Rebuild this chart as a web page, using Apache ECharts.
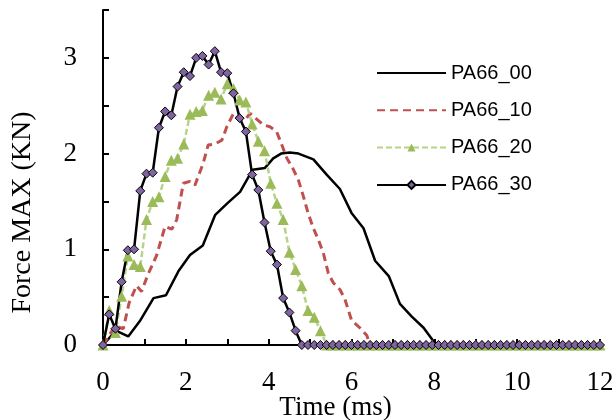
<!DOCTYPE html>
<html>
<head>
<meta charset="utf-8">
<script src="https://cdn.jsdelivr.net/npm/echarts@6/dist/echarts.min.js"></script>
<style>html,body{margin:0;padding:0;background:#fff}#c{width:612px;height:420px}</style>
</head>
<body>
<div id="c"></div>
<script>
// Time grid (ms) shared by the marker series
var timeGrid = [0,0.15,0.3,0.45,0.6,0.75,0.9,1.05,1.2,1.35,1.5,1.65,1.8,1.95,2.1,2.25,2.4,2.55,2.7,2.85,3,3.15,3.3,3.45,3.6,3.75,3.9,4.05,4.2,4.35,4.5,4.65,4.8,4.95,5.1,5.25,5.4,5.55,5.7,5.85,6,6.15,6.3,6.45,6.6,6.75,6.9,7.05,7.2,7.35,7.5,7.65,7.8,7.95,8.1,8.25,8.4,8.55,8.7,8.85,9,9.15,9.3,9.45,9.6,9.75,9.9,10.05,10.2,10.35,10.5,10.65,10.8,10.95,11.1,11.25,11.4,11.55,11.7,11.85,12];
// PA66_30 force (kN) at timeGrid
var pa66_30 = [0,0.32,0.17,0.66,0.99,1.00,1.61,1.79,1.80,2.27,2.44,2.40,2.70,2.85,2.81,3.00,3.02,2.93,3.07,2.85,2.84,2.63,2.37,2.23,1.78,1.62,1.28,0.98,0.84,0.49,0.34,0.15,0,0,0,0,0,0,0,0,0,0,0,0,0,0,0,0,0,0,0,0,0,0,0,0,0,0,0,0,0,0,0,0,0,0,0,0,0,0,0,0,0,0,0,0,0,0,0,0,0];
// PA66_20 force (kN) at timeGrid
var pa66_20 = [0,0.36,0.13,0.51,0.93,0.84,0.82,1.31,1.50,1.55,1.76,1.93,1.95,2.10,2.41,2.44,2.45,2.61,2.64,2.57,2.73,2.68,2.56,2.54,2.31,2.13,2.03,1.69,1.48,1.31,0.97,0.79,0.62,0.36,0.29,0.15,0,0,0,0,0,0,0,0,0,0,0,0,0,0,0,0,0,0,0,0,0,0,0,0,0,0,0,0,0,0,0,0,0,0,0,0,0,0,0,0,0,0,0,0,0];
// PA66_10 (time, force)
var pa66_10_t = [0,0.29,0.49,0.63,0.81,0.93,1.09,1.29,1.50,1.66,1.78,1.94,2.10,2.22,2.42,2.54,2.70,2.87,2.99,3.15,3.27,3.43,3.55,3.71,3.87,4.03,4.19,4.31,4.43,4.60,4.72,4.84,4.95,5.08,5.20,5.32,5.44,5.56,5.72,5.84,6.00,6.20,6.37,6.45,12];
var pa66_10_f = [0,0.20,0.17,0.44,0.62,0.56,0.74,0.93,1.24,1.21,1.31,1.69,1.71,1.67,1.90,2.09,2.10,2.14,2.28,2.42,2.36,2.35,2.42,2.36,2.30,2.28,2.23,2.10,1.96,1.83,1.72,1.55,1.38,1.22,1.10,0.96,0.75,0.65,0.58,0.48,0.26,0.18,0.10,0,0];
// PA66_00 (time, force)
var pa66_00_t = [0,0.31,0.61,0.89,1.22,1.52,1.82,2.10,2.41,2.71,3.00,3.31,3.61,3.91,4.11,4.30,4.51,4.72,5.08,5.40,5.72,6.00,6.29,6.57,6.90,7.17,7.45,7.74,7.98,8.10,12];
var pa66_00_f = [0,0.15,0.09,0.25,0.49,0.52,0.77,0.94,1.04,1.36,1.48,1.60,1.83,1.85,1.95,2.00,2.01,2.00,1.94,1.78,1.63,1.38,1.22,0.88,0.72,0.43,0.30,0.18,0.04,0,0];
var seriesNames = ['PA66_00','PA66_10','PA66_20','PA66_30'];
var xTicks = [0,2,4,6,8,10,12];
var yTicks = [0,1,2,3];

function pairs(t, f){ return t.map(function(v,i){ return [v, f[i]]; }); }

var serif = 'Liberation Serif';
var chart = echarts.init(document.getElementById('c'), null, {renderer:'canvas'});
chart.setOption({
  animation: false,
  backgroundColor: '#fff',
  grid: {left: 103, right: 12, top: 10, bottom: 75, containLabel: false, outerBoundsMode: 'none'},
  legend: {
    orient: 'vertical', left: 376, top: 63, padding: 0,
    itemWidth: 69, itemHeight: 10, itemGap: 17.3,
    textStyle: {fontFamily: 'Liberation Sans', fontSize: 20, color: '#000'},
    data: [
      {name: seriesNames[0], itemStyle: {opacity: 0}},
      {name: seriesNames[1], itemStyle: {opacity: 0}},
      {name: seriesNames[2]},
      {name: seriesNames[3]}
    ]
  },
  xAxis: {
    type: 'value', min: 0, max: 12, interval: 1,
    name: 'Time (ms)', nameLocation: 'middle', nameGap: 49, nameMoveOverlap: false,
    nameTextStyle: {fontFamily: serif, fontSize: 27, color: '#000', padding: [0, 32, 0, 0]},
    axisLine: {show: true, lineStyle: {color: '#000', width: 2}},
    axisTick: {show: true, inside: true, length: 6, lineStyle: {color: '#000', width: 2}},
    axisLabel: {margin: 24, fontFamily: serif, fontSize: 27, color: '#000',
      formatter: function(v){ return xTicks.indexOf(v) >= 0 ? String(v) : ''; }},
    splitLine: {show: false}
  },
  yAxis: {
    type: 'value', min: 0, max: 3.5, interval: 0.5,
    name: 'Force MAX (KN)', nameLocation: 'middle', nameGap: 66, nameMoveOverlap: false,
    nameTextStyle: {fontFamily: serif, fontSize: 28, color: '#000', padding: [0, 70, 0, 0]},
    axisLine: {show: true, lineStyle: {color: '#000', width: 2}},
    axisTick: {show: true, inside: true, length: 6, lineStyle: {color: '#000', width: 2}},
    axisLabel: {margin: 26, fontFamily: serif, fontSize: 27, color: '#000',
      formatter: function(v){ return yTicks.indexOf(v) >= 0 ? String(v) : ''; }},
    splitLine: {show: false}
  },
  series: [
    {name: 'PA66_00', type: 'line', data: pairs(pa66_00_t, pa66_00_f), symbol: 'none', clip: false,
      lineStyle: {color: '#000', width: 2.5}, itemStyle: {color: '#000'}},
    {name: 'PA66_10', type: 'line', data: pairs(pa66_10_t, pa66_10_f), symbol: 'none', clip: false,
      lineStyle: {color: '#C0504D', width: 3, type: [8, 5]}, itemStyle: {color: '#C0504D'}},
    {name: 'PA66_20', type: 'line', data: pairs(timeGrid, pa66_20), symbol: 'triangle', symbolSize: 11, clip: false,
      lineStyle: {color: '#b7d28a', width: 2.5, type: [6, 3]}, itemStyle: {color: '#9BBB59'}},
    {name: 'PA66_30', type: 'line', data: pairs(timeGrid, pa66_30), symbol: 'diamond', symbolSize: 9, clip: false,
      lineStyle: {color: '#000', width: 2.5}, itemStyle: {color: '#8064A2', borderColor: '#000', borderWidth: 1}}
  ]
});
</script>
</body>
</html>
